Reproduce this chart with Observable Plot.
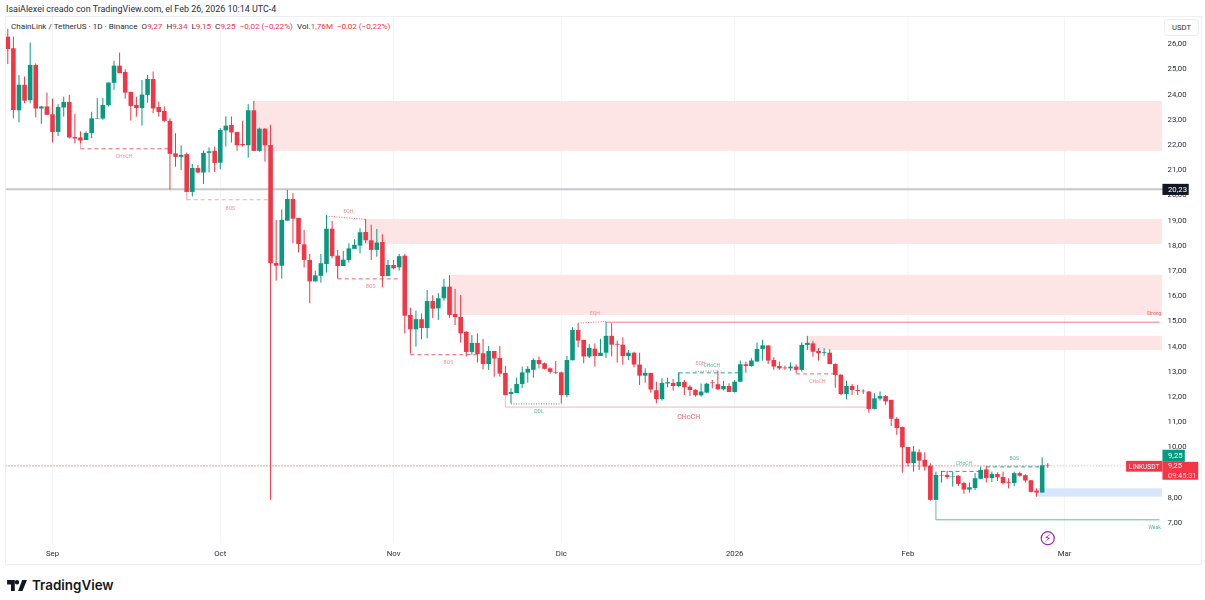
<!DOCTYPE html>
<html><head><meta charset="utf-8">
<script src="https://cdn.jsdelivr.net/npm/d3@7"></script>
<script src="https://cdn.jsdelivr.net/npm/@observablehq/plot@0.6"></script>
<style>
html,body{margin:0;padding:0;background:#fff;width:1205px;height:600px;overflow:hidden;font-family:Roboto,sans-serif}
#title{height:17px;font-size:8.95px;line-height:18px;padding-left:6px;color:#2a2e39;white-space:nowrap}
#chart svg{display:block;filter:blur(.3px)}
#legend{position:absolute;left:11px;top:21px;font-size:8.1px;line-height:11px;color:#2a2e39;white-space:nowrap}
#legend span{color:#f23645}
#frame{position:absolute;left:5px;top:16px;width:1197px;height:549px;border:1px solid #eeeff2;box-sizing:border-box;pointer-events:none}
#unit{position:absolute;left:1164px;top:19px;width:35px;height:17px;border:1px solid #eceef2;border-radius:3px;box-sizing:border-box;font-size:7.6px;line-height:15px;text-align:center;color:#2a2e39}
#footer{position:absolute;left:7px;top:576px;height:18px;display:flex;align-items:center;gap:5px;font:600 13.4px/18px Inter,Roboto,sans-serif;color:#131722}
</style></head><body>
<div id="title">IsaiAlexei creado con TradingView.com, el Feb 26, 2026 10:14 UTC-4</div>
<div id="chart"></div>
<div id="frame"></div>
<div id="legend">ChainLink / TetherUS · 1D · Binance &nbsp;O<span>9,27</span> &nbsp;H<span>9,34</span> &nbsp;L<span>9,15</span> &nbsp;C<span>9,25</span> &nbsp;<span>−0,02 (−0,22%)</span> &nbsp;Vol.<span>1,76M</span> &nbsp;<span>−0,02 (−0,22%)</span></div>
<div id="unit">USDT</div>
<div id="footer"><svg width="20" height="11" viewBox="0 0 36 20"><path fill="#131722" d="M14 20H7V8H0V0h14zM28 20h-8l7.5-20H36zM22 4a4 4 0 1 1-8 0 4 4 0 0 1 8 0z"/></svg><span>TradingView</span></div>
<script>
const open_ = [
26.26,25.80,23.34,24.35,23.74,25.14,23.41,23.49,23.18,22.48,
23.45,23.67,22.28,22.26,22.16,22.43,23.01,23.01,23.54,24.43,
25.11,24.86,24.07,23.55,23.43,23.95,24.58,23.47,23.31,22.92,
21.63,21.49,21.60,20.10,21.05,20.87,21.65,21.73,21.26,22.54,
22.76,22.48,22.00,21.95,23.34,21.73,22.61,21.96,17.28,17.17,
18.96,19.82,19.07,18.02,17.40,16.55,16.77,17.24,18.64,17.57,
17.16,17.40,17.84,17.97,18.51,18.18,17.80,18.11,16.76,17.20,
17.11,17.57,15.22,14.65,15.05,14.70,15.77,15.48,15.88,16.34,
15.26,15.14,14.55,13.75,14.11,13.70,13.27,13.79,13.51,12.92,
12.08,12.12,12.48,12.93,13.04,13.43,13.30,13.10,12.96,12.94,
12.04,13.42,14.62,14.23,13.57,13.88,13.59,13.72,14.39,14.07,
14.04,13.59,13.72,13.25,12.81,12.92,12.23,11.88,12.50,12.52,
12.40,12.56,12.37,12.25,12.03,12.14,12.54,12.47,12.27,12.40,
12.16,12.57,13.26,13.19,13.37,13.87,14.01,13.43,13.19,13.13,
13.10,13.17,13.04,14.03,14.09,13.79,13.72,13.72,13.27,12.85,
12.08,12.40,12.24,12.21,12.18,11.49,11.90,12.00,11.85,11.10,
10.77,9.98,9.34,9.77,9.47,9.24,7.88,8.85,8.87,8.81,
8.84,8.55,8.29,8.35,8.72,9.09,8.75,8.91,8.79,8.59,
8.55,8.94,8.86,8.66,8.25,8.17,9.27];
const close_ = [
25.77,23.35,24.35,23.72,25.14,23.41,23.49,23.16,22.48,23.47,
23.67,22.26,22.22,22.14,22.44,23.02,23.03,23.55,24.44,25.11,
24.81,24.04,23.51,23.43,23.96,24.58,23.41,23.27,22.92,21.61,
21.49,21.57,20.10,21.05,20.87,21.65,21.71,21.25,22.56,22.73,
22.46,21.95,21.95,23.34,21.73,22.61,21.95,17.27,17.17,18.99,
19.82,19.04,18.03,17.40,16.55,16.79,17.27,18.64,17.55,17.16,
17.41,17.86,18.00,18.50,18.18,17.80,18.09,16.76,17.20,17.07,
17.55,15.19,14.65,15.05,14.70,15.77,15.47,15.88,16.34,15.22,
15.13,14.49,13.75,14.11,13.67,13.27,13.79,13.49,12.89,12.04,
12.16,12.48,12.94,13.08,13.43,13.27,13.08,12.96,12.93,12.04,
13.43,14.62,14.20,13.57,13.91,13.59,13.72,14.39,14.04,14.04,
13.59,13.72,13.25,12.81,12.92,12.26,11.88,12.52,12.55,12.40,
12.56,12.35,12.24,12.03,12.18,12.49,12.52,12.27,12.40,12.16,
12.57,13.26,13.19,13.41,13.87,14.01,13.41,13.17,13.10,13.10,
13.17,13.04,14.03,14.11,13.76,13.70,13.75,13.27,12.84,12.08,
12.40,12.24,12.20,12.19,11.49,11.91,12.00,11.79,11.10,10.73,
9.97,9.34,9.80,9.44,9.20,7.88,8.87,8.87,8.79,8.83,
8.51,8.29,8.38,8.74,9.07,8.75,8.91,8.78,8.55,8.56,
8.94,8.84,8.65,8.20,8.17,9.25,9.25];
const high_ = [
26.57,26.26,24.74,24.68,26.03,25.20,23.51,24.04,23.80,23.58,
23.88,23.95,23.20,22.50,22.50,23.28,23.82,23.82,24.44,25.30,
25.63,24.97,24.07,23.88,24.54,24.74,24.88,23.68,23.49,23.02,
22.43,21.95,21.66,21.21,21.17,21.74,21.87,21.90,22.63,23.10,
23.09,22.48,22.93,23.58,23.71,22.65,22.63,22.76,18.99,19.40,
20.18,20.05,19.07,18.59,17.64,16.98,17.64,19.19,18.95,17.80,
17.76,18.06,18.22,18.66,19.03,18.80,18.63,18.42,17.40,17.40,
17.64,17.64,15.51,15.39,15.28,16.21,16.00,16.08,16.65,16.80,
16.25,16.01,14.58,14.42,14.49,14.27,13.99,13.79,13.99,13.19,
12.31,12.73,13.17,13.19,13.50,13.57,13.33,13.14,13.39,12.97,
13.59,14.73,14.89,14.23,14.07,14.09,14.27,14.95,14.89,14.20,
14.33,13.83,13.76,13.72,13.10,12.92,12.57,12.71,12.73,12.68,
12.94,12.64,12.44,12.27,12.50,12.53,12.64,13.01,12.60,12.51,
12.64,13.41,13.37,13.50,14.12,14.23,14.01,13.54,13.37,13.21,
13.34,13.26,14.13,14.39,14.19,13.90,13.90,13.86,13.30,12.86,
12.61,12.48,12.44,12.27,12.20,12.11,12.18,12.04,11.85,11.16,
10.79,9.98,10.02,9.89,9.77,9.33,9.00,9.03,9.03,9.00,
8.87,8.60,8.57,8.94,9.20,9.23,9.00,8.98,9.00,8.74,
9.00,9.00,8.90,8.66,8.34,9.57,9.34];
const low_ = [
25.17,23.02,22.86,23.62,23.62,23.06,22.80,23.16,22.06,22.32,
23.09,22.22,22.03,22.03,22.16,22.23,23.00,22.96,23.49,24.15,
24.81,23.80,22.93,23.09,22.73,23.64,23.22,23.09,22.88,20.20,
21.10,20.97,20.08,19.92,20.84,20.42,20.87,20.89,21.00,21.90,
22.06,21.74,21.90,21.46,21.73,21.70,21.30,7.88,16.58,16.66,
18.96,18.06,17.70,17.10,15.68,16.55,16.50,16.90,17.47,16.67,
17.16,17.29,17.84,17.66,18.06,17.40,17.53,16.31,16.76,17.03,
16.98,14.49,13.70,13.96,14.25,14.29,15.09,15.02,15.79,15.10,
14.82,14.12,13.57,13.64,13.33,13.06,13.04,12.77,12.77,12.04,
11.71,12.12,12.31,12.53,12.73,13.10,13.06,12.88,12.88,11.71,
11.95,13.42,13.94,13.30,13.51,13.17,13.59,13.52,13.57,13.33,
13.24,13.43,13.14,12.44,12.53,12.14,11.71,11.82,12.35,12.22,
12.35,12.04,12.00,11.98,11.98,12.11,12.31,12.24,12.22,12.16,
12.14,12.55,12.93,13.17,13.37,13.41,13.27,13.04,13.04,13.04,
13.01,12.90,12.97,13.83,13.56,13.41,13.60,13.27,12.33,12.04,
11.87,12.04,12.04,12.08,11.34,11.47,11.82,11.65,10.81,10.46,
8.96,9.20,9.00,9.07,9.04,7.85,7.88,8.57,8.70,8.41,
8.43,8.12,8.17,8.27,8.72,8.57,8.59,8.63,8.49,8.34,
8.43,8.80,8.57,8.17,8.01,8.17,9.15];

const priceTicks = [7,8,10,11,12,13,14,15,16,17,18,19,20,21,22,23,24,25,26];
const monthDates = ["2025-09-01","2025-10-01","2025-11-01","2025-12-01","2026-01-01","2026-02-01","2026-03-01"];
const monthNames = ["Sep","Oct","Nov","Dic","2026","Feb","Mar"];

// supply / demand zones: first candle, top, bottom, colour
const zoneStart = [44,64,79,143,184];
const zoneTop = [23.71,19.03,16.81,14.39,8.34];
const zoneBottom = [21.73,18.03,15.22,13.83,8.01];
const zoneFill = ["#fde4e5","#fde4e5","#fde4e5","#fde4e5","#d8e6fc"];
const zoneEnd = 206.5;

// structure lines: candle1, price1, candle2, price2, colour, width
const RED="#f7636f", PALE="#f9a9af", GRN="#27a78f";
const dashedSegs = [
 [13,21.83,29,21.83,RED,1],
 [32,19.81,47,19.81,PALE,1],
 [59,16.67,70,16.67,RED,1],
 [72,13.66,84,13.66,RED,1],
 [141,12.90,148,12.90,RED,1],
 [120,12.94,131,12.94,GRN,1],
 [167,9.03,174,9.03,GRN,1],
 [175,9.21,185,9.21,GRN,1]
];
const dottedSegs = [
 [57,19.16,64,19.03,RED,1],
 [102,14.91,107,14.98,RED,1],
 [123,13.00,127,13.02,RED,1],
 [90,11.71,99,11.71,GRN,1]
];
const solidSegs = [
 [13,22.14,13,21.83,PALE,1],[32,20.08,32,19.81,PALE,1],[59,17.16,59,16.67,PALE,1],[72,14.65,72,13.66,PALE,1],
 [120,12.56,120,12.94,GRN,1],
 [107,14.95,206,14.95,"#ec7f87",1],
 [89,11.58,154,11.58,"#fac3c7",1.4],[89,12.04,89,11.58,"#fac3c7",1.2],
 [166,7.11,206,7.11,"#63b9a6",1],[166,7.88,166,7.11,"#63b9a6",1]
];

// small annotations: text, candle, price, colour, size
const noteText = ["CHoCH","BOS","EQH","BOS","BOS","DDL","EQH","CHoCH","EQH","CHoCH","CHoCH","CHoCH","BOS","Strong","Weak"];
const noteCandle = [20.8,39.8,60.9,64.9,78.8,95,105,121.8,123.9,125.9,144.8,171,180,205,205.1];
const notePrice = [21.53,19.46,19.35,16.37,13.35,11.41,15.30,11.21,13.31,13.23,12.60,9.35,9.55,15.30,6.81];
const noteColor = ["#f88a93","#f88a93","#f88a93","#f88a93","#f88a93","#55b8a4","#f88a93","#f7636f","#f88a93","#55b8a4","#f88a93","#55b8a4","#55b8a4","#f7636f","#55b8a4"];
const noteSize = [5,5,5,5,5,5,5,7,5,5,5,5,5,5,5];

const day = i => new Date(Date.UTC(2025,7,24) + i*864e5);
const candles = open_.map((o,i)=>({date:day(i),o,h:high_[i],l:low_[i],c:close_[i],up:close_[i]>o}));
const segs = a => a.map(([a1,p1,a2,p2,color,w])=>({x1:day(a1),y1:p1,x2:day(a2),y2:p2,color,w}));
const zones = zoneStart.map((s,i)=>({x1:day(s),x2:day(zoneEnd),y1:zoneBottom[i],y2:zoneTop[i],fill:zoneFill[i]}));
const notes = noteText.map((t,i)=>({t,x:day(noteCandle[i]),y:notePrice[i],color:noteColor[i],size:noteSize[i]}));
const months = monthDates.map(d=>new Date(d+"T00:00Z"));
const monthLabel = d => monthNames[months.findIndex(m=>+m===+d)];
const comma = v => d3.format(".2f")(v).replace(".",",");

const boxes = [
 {x1:day(206.6),x2:day(211.3),y1:19.98,y2:20.42,fill:"#131722"},
 {x1:day(206.6),x2:day(210.6),y1:9.39,y2:9.87,fill:"#089981"},
 {x1:day(206.6),x2:day(213),y1:8.68,y2:9.39,fill:"#f23645"},
 {x1:day(200.1),x2:day(206.6),y1:9.0,y2:9.43,fill:"#f23645"}
];
const tags = [
 {t:"20,23",x:day(207.5),y:20.2,fill:"#fff",w:600,s:7.8},
 {t:"9,25",x:day(207.5),y:9.65,fill:"#fff",w:600,s:7.8},
 {t:"9,25",x:day(207.5),y:9.24,fill:"#fff",w:600,s:7.4},
 {t:"09:45:31",x:day(207.5),y:8.88,fill:"#fdd",w:400,s:7.4},
 {t:"LINKUSDT",x:day(200.5),y:9.21,fill:"#fff",w:600,s:6.6}
];
const linkOpts = dash => ({x1:"x1",y1:"y1",x2:"x2",y2:"y2",stroke:"color",strokeWidth:"w",strokeDasharray:dash});
const ink = d => d.up ? "#089981" : "#f23645";

const chart = Plot.plot({
  width:1205,height:547,marginLeft:5,marginRight:42,marginTop:0,marginBottom:21,
  style:{fontFamily:"Roboto,sans-serif",background:"transparent",overflow:"visible"},
  x:{type:"utc",domain:[day(-0.41),day(206.7)],axis:null},
  y:{domain:[6.17,27.04],axis:null},
  marks:[
    Plot.ruleX(months,{stroke:"#f3f4f6",strokeWidth:1}),
    Plot.rect(zones,{x1:"x1",x2:"x2",y1:"y1",y2:"y2",fill:"fill"}),
    Plot.ruleY([20.23],{stroke:"#c6c6cc",strokeWidth:2}),
    Plot.link([{x1:day(-0.41),x2:day(186),y:9.25}],{x1:"x1",x2:"x2",y1:"y",y2:"y",stroke:"#f23645",strokeWidth:1,strokeDasharray:"1,2"}),
    Plot.link([{x1:day(186),x2:day(200),y:9.25}],{x1:"x1",x2:"x2",y1:"y",y2:"y",stroke:"#f8a5ab",strokeWidth:1,strokeDasharray:"1,2"}),
    Plot.link(segs(solidSegs),linkOpts("none")),
    Plot.link(segs(dashedSegs),linkOpts("4,3")),
    Plot.link(segs(dottedSegs),linkOpts("1,1.5")),
    Plot.ruleX(candles,{x:"date",y1:"l",y2:"h",stroke:ink,strokeWidth:1}),
    Plot.ruleX(candles,{x:"date",y1:"o",y2:"c",stroke:ink,strokeWidth:4.6}),
    Plot.text(notes,{x:"x",y:"y",text:"t",fill:"color",fontSize:"size"}),
    Plot.dot([{x:day(186),y:6.38}],{x:"x",y:"y",r:6.5,fill:"#fff",stroke:"#9c27b0",strokeWidth:1.2}),
    Plot.text([{x:day(186),y:6.38}],{x:"x",y:"y",text:()=>"⚡",fill:"#9c27b0",fontSize:10.5,fontWeight:700,fontFamily:"DejaVu Sans"}),
    Plot.axisY(priceTicks,{anchor:"right",tickSize:0,tickPadding:4,tickFormat:comma,fontSize:7.8,fill:"#2a2e39",label:null}),
    Plot.axisX(months,{anchor:"bottom",tickSize:0,tickPadding:7,tickFormat:monthLabel,fontSize:7.8,fill:"#2a2e39",label:null,
      fontWeight:d=>monthLabel(d)==="2026"?700:400}),
    Plot.rect(boxes,{x1:"x1",x2:"x2",y1:"y1",y2:"y2",fill:"fill"}),
    Plot.text(tags,{x:"x",y:"y",text:"t",fill:"fill",fontWeight:"w",textAnchor:"start",fontSize:"s"})
  ]
});
document.getElementById("chart").append(chart);
</script>
</body></html>
